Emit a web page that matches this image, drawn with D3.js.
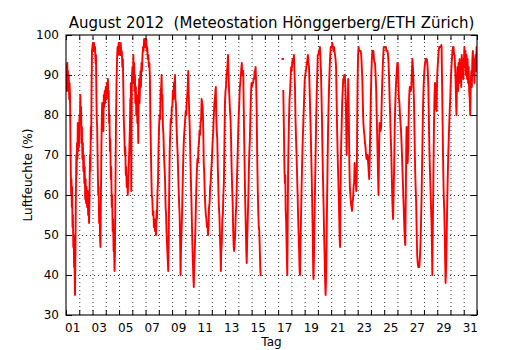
<!DOCTYPE html>
<html>
<head>
<meta charset="utf-8">
<script src="https://cdn.jsdelivr.net/npm/d3@7"></script>
<style>
body { margin: 0; background: #fff; }
text { font-family: "DejaVu Sans", sans-serif; fill: #000; }
</style>
</head>
<body>
<svg class="feuchtegraph" width="530" height="350"></svg>
<script>
var titel = "August 2012  (Meteostation H\u00f6nggerberg/ETH Z\u00fcrich)";
var tagLabels = ["01","03","05","07","09","11","13","15","17","19","21","23","25","27","29","31"];
var feuchteTicks = [30, 40, 50, 60, 70, 80, 90, 100];

// [Tag seit 1. August 00:00, Luftfeuchte %], null = Messluecke
var messwerte = [
  [0.00,87],[0.02,91],[0.04,86],[0.07,92],[0.10,93],[0.12,88],[0.15,91],[0.18,86],[0.21,90],[0.24,84],[0.27,88],[0.30,85],[0.33,76],[0.36,66],[0.39,60],[0.41,64],[0.44,57],[0.46,62],[0.49,52],[0.52,55],[0.55,47],[0.58,50],[0.61,42],[0.64,44],[0.68,35],[0.71,45],[0.74,58],[0.78,70],[0.80,65],[0.83,73],[0.86,69],[0.89,78],[0.92,71],[0.95,77],[0.98,72],
  [1.02,80],[1.05,78],[1.08,85],[1.11,78],[1.14,82],[1.17,73],[1.20,77],[1.24,69],[1.27,73],[1.31,66],[1.34,70],[1.38,63],[1.41,67],[1.45,59],[1.48,64],[1.51,58],[1.55,62],[1.59,57],[1.63,61],[1.67,55],[1.71,57],[1.74,53],[1.78,62],[1.81,70],[1.84,66],[1.87,77],[1.90,74],[1.93,88],[1.96,96],
  [1.99,97],[2.03,98],[2.07,96],[2.11,98],[2.15,96],[2.19,97],[2.23,93],[2.26,95],[2.29,86],[2.32,79],[2.35,77],[2.39,68],[2.43,60],[2.46,62],[2.50,53],[2.54,55],[2.57,49],[2.60,47],[2.63,58],[2.67,72],[2.70,79],[2.73,83],[2.76,77],[2.79,81],[2.82,76],[2.85,85],[2.88,82],[2.92,86],[2.96,83],
  [3.00,87],[3.04,84],[3.08,88],[3.12,85],[3.16,89],[3.19,84],[3.22,86],[3.25,78],[3.28,80],[3.31,71],[3.34,74],[3.38,64],[3.41,67],[3.45,57],[3.48,60],[3.52,51],[3.55,54],[3.59,46],[3.62,48],[3.66,41],[3.69,45],[3.73,62],[3.77,78],[3.81,88],[3.85,94],[3.89,97],[3.93,95],[3.97,98],
  [4.01,96],[4.05,97],[4.09,95],[4.13,98],[4.17,95],[4.21,96],[4.25,92],[4.29,94],[4.32,88],[4.36,79],[4.40,75],[4.44,70],[4.47,72],[4.51,65],[4.54,67],[4.58,62],[4.62,64],[4.66,60],[4.70,64],[4.74,68],[4.78,72],[4.82,77],[4.85,84],[4.88,80],[4.90,88],[4.92,61],[4.94,74],[4.97,89],
  [5.01,92],[5.05,88],[5.08,95],[5.11,90],[5.14,93],[5.17,86],[5.20,90],[5.23,83],[5.27,87],[5.30,80],[5.34,85],[5.38,78],[5.42,82],[5.45,73],[5.48,84],[5.52,89],[5.55,83],[5.58,88],[5.62,91],[5.65,87],[5.69,93],[5.73,91],[5.77,95],[5.81,97],[5.85,96],[5.89,99],[5.93,97],[5.97,99],
  [6.01,97],[6.05,99],[6.09,96],[6.13,97],[6.17,94],[6.21,95],[6.25,92],[6.29,93],[6.33,89],[6.36,80],[6.40,72],[6.43,66],[6.47,60],[6.51,59],[6.55,55],[6.59,56],[6.63,52],[6.67,54],[6.71,51],[6.75,52],[6.79,50],[6.83,56],[6.86,54],[6.90,61],[6.94,63],[6.98,72],
  [7.02,77],[7.06,80],[7.10,79],[7.14,86],[7.18,87],[7.21,90],[7.24,84],[7.27,85],[7.31,77],[7.35,75],[7.39,70],[7.43,67],[7.47,64],[7.51,57],[7.55,55],[7.59,50],[7.63,47],[7.67,44],[7.71,41],[7.74,47],[7.78,60],[7.82,71],[7.86,75],[7.90,79],[7.94,78],[7.98,82],
  [8.02,82],[8.06,86],[8.10,84],[8.14,88],[8.18,87],[8.22,90],[8.25,84],[8.29,83],[8.33,78],[8.37,74],[8.41,71],[8.45,67],[8.49,62],[8.53,58],[8.57,55],[8.61,48],[8.64,40],[8.67,46],[8.71,50],[8.75,55],[8.79,61],[8.83,67],[8.87,72],[8.91,75],[8.95,77],[8.99,79],
  [9.03,81],[9.07,80],[9.11,84],[9.15,85],[9.19,88],[9.22,91],[9.25,86],[9.29,81],[9.33,77],[9.37,71],[9.41,65],[9.45,60],[9.49,54],[9.53,48],[9.57,43],[9.61,39],[9.64,37],[9.67,42],[9.71,46],[9.75,50],[9.79,56],[9.83,62],[9.87,66],[9.91,69],[9.95,68],[9.99,72],
  [10.03,73],[10.07,76],[10.11,75],[10.15,78],[10.19,79],[10.23,84],[10.27,83],[10.31,82],[10.35,77],[10.39,68],[10.43,65],[10.47,60],[10.51,57],[10.55,55],[10.59,54],[10.63,52],[10.67,53],[10.71,50],[10.75,52],[10.79,57],[10.83,58],[10.87,62],[10.91,63],[10.95,66],[10.99,68],
  [11.03,71],[11.07,74],[11.11,76],[11.15,80],[11.19,83],[11.23,84],[11.27,86],[11.30,87],[11.33,80],[11.37,76],[11.41,74],[11.45,67],[11.49,62],[11.53,57],[11.57,55],[11.61,50],[11.65,46],[11.68,41],[11.71,46],[11.75,48],[11.79,54],[11.83,55],[11.87,60],[11.91,63],[11.95,73],[11.99,83],
  [12.03,86],[12.07,87],[12.11,90],[12.15,91],[12.19,93],[12.22,95],[12.25,91],[12.29,87],[12.33,84],[12.37,81],[12.41,79],[12.45,74],[12.49,67],[12.53,62],[12.57,58],[12.61,51],[12.65,47],[12.68,46],[12.72,48],[12.76,50],[12.80,55],[12.84,57],[12.88,62],[12.92,67],[12.96,72],[12.99,76],
  [13.03,80],[13.07,83],[13.11,87],[13.15,88],[13.19,90],[13.23,92],[13.26,93],[13.29,90],[13.33,90],[13.37,91],[13.40,83],[13.44,74],[13.48,66],[13.52,58],[13.56,52],[13.60,46],[13.63,43],[13.67,49],[13.71,54],[13.75,59],[13.79,66],[13.83,71],[13.87,74],[13.91,80],[13.95,85],[13.99,88],
  [14.03,87],[14.07,88],[14.11,88],[14.15,89],[14.19,89],[14.23,91],[14.27,91],[14.30,92],[14.34,88],[14.38,82],[14.42,70],[14.46,62],[14.50,56],[14.54,52],[14.58,51],[14.62,46],[14.66,41],[14.68,40],
  null,
  [16.33,94],[16.36,94],
  null,
  [16.39,86],[16.42,80],[16.45,73],[16.48,66],[16.51,63],[16.54,65],[16.57,56],[16.60,54],[16.63,49],[16.66,44],[16.69,40],[16.72,52],[16.75,65],[16.78,72],[16.82,79],[16.86,84],[16.90,86],[16.94,89],[16.98,92],
  [17.02,91],[17.06,93],[17.10,94],[17.14,93],[17.19,95],[17.23,91],[17.27,87],[17.31,79],[17.35,74],[17.39,70],[17.43,65],[17.47,60],[17.51,54],[17.55,50],[17.59,45],[17.62,41],[17.65,40],[17.69,48],[17.73,55],[17.77,62],[17.81,68],[17.85,73],[17.89,77],[17.93,81],[17.97,85],
  [18.01,89],[18.05,90],[18.09,91],[18.13,92],[18.17,93],[18.21,94],[18.25,95],[18.29,93],[18.33,92],[18.37,87],[18.41,82],[18.45,77],[18.49,71],[18.53,65],[18.57,58],[18.61,50],[18.65,40],[18.67,39],[18.71,46],[18.75,55],[18.79,63],[18.83,71],[18.87,79],[18.91,85],[18.95,90],[18.99,95],
  [19.03,95],[19.07,96],[19.11,96],[19.15,97],[19.19,94],[19.23,91],[19.27,85],[19.31,78],[19.35,70],[19.39,63],[19.43,57],[19.47,50],[19.51,44],[19.55,38],[19.58,35],[19.61,38],[19.65,47],[19.69,58],[19.73,68],[19.77,77],[19.81,83],[19.85,88],[19.89,92],[19.93,95],[19.97,97],
  [20.01,97],[20.05,97],[20.09,98],[20.13,97],[20.17,96],[20.21,97],[20.25,96],[20.29,95],[20.33,94],[20.37,92],[20.41,84],[20.45,76],[20.49,70],[20.53,65],[20.57,60],[20.61,54],[20.64,49],[20.67,47],[20.71,62],[20.75,72],[20.79,77],[20.83,83],[20.87,86],[20.91,89],[20.95,89],[20.99,90],
  [21.03,90],[21.07,87],[21.11,82],[21.15,74],[21.17,70],[21.21,80],[21.25,83],[21.29,89],[21.33,80],[21.37,68],[21.41,62],[21.45,60],[21.49,58],[21.53,57],[21.57,56],[21.61,58],[21.65,59],[21.69,62],[21.73,63],[21.77,68],[21.81,64],[21.85,65],[21.89,61],[21.93,64],[21.97,80],[21.99,88],
  [22.03,95],[22.07,97],[22.11,96],[22.15,96],[22.19,96],[22.23,96],[22.27,95],[22.31,92],[22.35,89],[22.39,83],[22.43,78],[22.47,76],[22.51,75],[22.55,73],[22.59,72],[22.63,70],[22.67,69],[22.71,70],[22.75,70],[22.79,68],[22.83,66],[22.87,64],[22.91,70],[22.95,76],[22.99,84],
  [23.03,90],[23.07,94],[23.11,96],[23.15,96],[23.19,96],[23.23,94],[23.27,93],[23.31,93],[23.35,90],[23.39,87],[23.43,81],[23.47,75],[23.51,69],[23.55,63],[23.57,60],[23.61,70],[23.65,78],[23.69,76],[23.73,76],[23.77,77],[23.81,83],[23.85,88],[23.89,92],[23.93,95],[23.97,97],
  [24.01,97],[24.05,97],[24.09,97],[24.13,97],[24.17,96],[24.21,96],[24.25,96],[24.29,95],[24.33,93],[24.37,89],[24.41,84],[24.45,80],[24.49,75],[24.53,71],[24.57,65],[24.61,59],[24.65,55],[24.67,54],[24.71,60],[24.75,67],[24.79,76],[24.83,82],[24.87,86],[24.91,89],[24.95,91],[24.99,93],
  [25.03,93],[25.07,88],[25.11,84],[25.15,83],[25.19,80],[25.23,78],[25.27,76],[25.31,73],[25.35,69],[25.39,65],[25.43,61],[25.47,57],[25.51,53],[25.55,49],[25.59,47.5],[25.63,60],[25.67,74],[25.69,77],[25.73,72],[25.77,68],[25.81,72],[25.85,80],[25.89,85],[25.93,87],[25.97,87],
  [26.01,86],[26.05,87],[26.09,91],[26.13,94],[26.17,92],[26.21,88],[26.25,83],[26.29,75],[26.33,67],[26.37,62],[26.41,58],[26.45,51],[26.49,45],[26.53,43],[26.57,42],[26.61,42],[26.65,42],[26.69,44],[26.73,47],[26.77,52],[26.81,58],[26.85,66],[26.89,74],[26.93,82],[26.97,87],
  [27.01,90],[27.05,92],[27.09,93],[27.13,94],[27.17,94],[27.21,94],[27.25,93],[27.29,91],[27.33,87],[27.37,79],[27.41,71],[27.45,66],[27.49,62],[27.53,57],[27.57,53],[27.60,47],[27.63,40],[27.67,52],[27.71,64],[27.75,76],[27.79,84],[27.83,88],[27.87,85],[27.91,82],[27.95,81],[27.99,89],
  [28.03,92],[28.07,94],[28.11,96],[28.15,97],[28.19,97],[28.23,97],[28.27,97],[28.31,97.5],[28.33,97],[28.37,87],[28.41,77],[28.45,67],[28.49,60],[28.53,56],[28.57,50],[28.60,43],[28.63,38],[28.67,42],[28.71,49],[28.75,57],[28.79,64],[28.83,70],[28.87,74],[28.91,78],[28.95,82],[28.99,85],
  [29.03,89],[29.07,92],[29.11,94],[29.15,96],[29.19,97],[29.23,97],[29.27,95],[29.31,95],[29.35,92],[29.39,88],[29.43,82],[29.45,80],[29.49,88],[29.53,92],[29.57,86],[29.61,93],[29.65,88],[29.69,94],[29.73,89],[29.77,93],[29.81,87],[29.85,95],[29.89,90],[29.93,94],[29.97,89],
  [30.01,93],[30.05,97],[30.09,92],[30.13,96],[30.17,90],[30.21,95],[30.25,89],[30.29,94],[30.33,88],[30.37,92],[30.41,86],[30.45,84],[30.49,80],[30.53,88],[30.57,91],[30.61,87],[30.65,94],[30.69,96],[30.73,90],[30.77,94],[30.81,88],[30.85,93],[30.89,95],[30.93,91],[30.97,97],[31.00,96]
];

// Make the graph
var svg = d3.select(".feuchtegraph"),
  margin = {top: 35, right: 53, bottom: 35, left: 66},
  width = +svg.attr("width") - margin.left - margin.right,
  height = +svg.attr("height") - margin.top - margin.bottom;

svg.append("rect").attr("width", +svg.attr("width")).attr("height", +svg.attr("height")).attr("fill", "#fff");

var main = svg.append("g").attr("transform", "translate(" + margin.left + "," + margin.top + ")");

var x = d3.scaleLinear().domain([0, 31]).range([0, width]);
var y = d3.scaleLinear().domain([30, 100]).range([height, 0]);

// dotted grid
main.append("g").attr("class", "xgrid")
  .attr("transform", "translate(0," + height + ")")
  .call(d3.axisBottom(x).tickValues(d3.range(1, 31)).tickSize(-height).tickFormat(""));
main.append("g").attr("class", "ygrid")
  .call(d3.axisLeft(y).tickValues(feuchteTicks.slice(1, -1)).tickSize(-width).tickFormat(""));
main.selectAll(".xgrid line, .ygrid line")
  .attr("stroke", "#000").attr("stroke-width", 0.8).attr("stroke-dasharray", "1,3");
main.selectAll(".xgrid .domain, .ygrid .domain").remove();

// data line
main.append("clipPath").attr("id", "plotclip")
  .append("rect").attr("width", width).attr("height", height);

var feuchteLine = d3.line()
  .defined(function(d) { return d !== null; })
  .x(function(d) { return x(d[0]); })
  .y(function(d) { return y(d[1]); });

main.append("path")
  .datum(messwerte)
  .attr("clip-path", "url(#plotclip)")
  .attr("fill", "none")
  .attr("stroke", "#ff0000")
  .attr("stroke-width", 1.9)
  .attr("stroke-linejoin", "round")
  .attr("stroke-linecap", "square")
  .attr("d", feuchteLine);

// inward ticks on all four sides
var dayTicks = d3.range(0, 32);
main.append("g").attr("class", "tick-b").attr("transform", "translate(0," + height + ")")
  .call(d3.axisBottom(x).tickValues(dayTicks).tickSize(-5).tickFormat(""));
main.append("g").attr("class", "tick-t")
  .call(d3.axisTop(x).tickValues(dayTicks).tickSize(-5).tickFormat(""));
main.append("g").attr("class", "tick-l")
  .call(d3.axisLeft(y).tickValues(feuchteTicks).tickSize(-6).tickPadding(7).tickFormat(d3.format("d")));
main.append("g").attr("class", "tick-r").attr("transform", "translate(" + width + ",0)")
  .call(d3.axisRight(y).tickValues(feuchteTicks).tickSize(-6).tickFormat(""));
main.selectAll(".tick-b .domain, .tick-t .domain, .tick-l .domain, .tick-r .domain").remove();

// day labels sit in the middle of the day
var xlab = main.append("g").attr("class", "xlabels").attr("transform", "translate(0," + height + ")");
xlab.selectAll("text").data(tagLabels).enter().append("text")
  .attr("x", function(d) { return x(+d - 0.5); })
  .attr("y", 17)
  .attr("text-anchor", "middle")
  .style("font-size", "12px")
  .text(function(d) { return d; });

main.selectAll(".tick-l text").style("font-size", "12px").style("font-family", "DejaVu Sans");

// frame
main.append("rect")
  .attr("width", width).attr("height", height)
  .attr("fill", "none").attr("stroke", "#000").attr("stroke-width", 1.1);

// labels
svg.append("text")
  .attr("x", margin.left + width / 2).attr("y", 28)
  .attr("text-anchor", "middle")
  .style("font-size", "15px")
  .style("white-space", "pre")
  .text(titel);

svg.append("text")
  .attr("x", margin.left + width / 2).attr("y", 346)
  .attr("text-anchor", "middle")
  .style("font-size", "12px")
  .text("Tag");

svg.append("text")
  .attr("transform", "translate(32," + (margin.top + height / 2) + ") rotate(-90)")
  .attr("text-anchor", "middle")
  .style("font-size", "12px")
  .text("Luftfeuchte (%)");
</script>
</body>
</html>
